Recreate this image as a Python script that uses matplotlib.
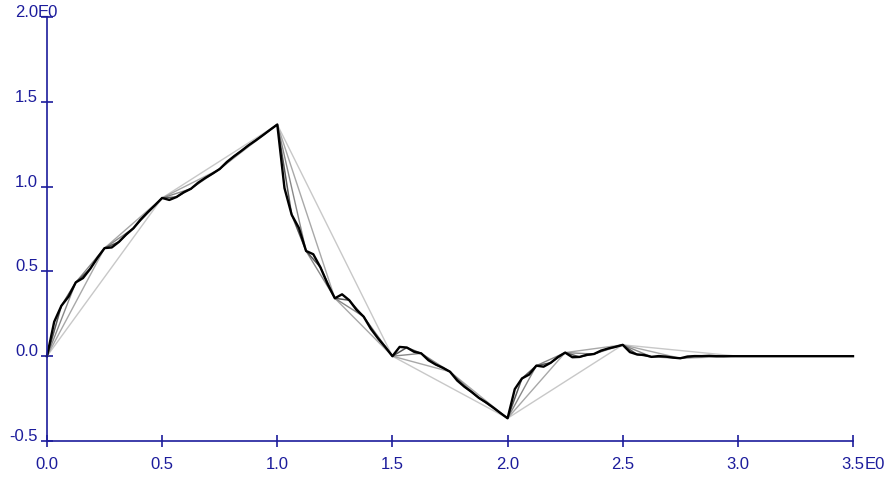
import numpy as np
import matplotlib
matplotlib.use('Agg')
import matplotlib.pyplot as plt
from matplotlib.transforms import offset_copy

plt.rcParams['font.family'] = ['Liberation Sans', 'DejaVu Sans']

# values on the finest grid, step 1/32 (x = 0 .. 3.5)
step = 1 / 32
yvals = [
    0.0, 0.2030, 0.2973, 0.3517, 0.4353, 0.4605, 0.5149, 0.5800,
    0.6373, 0.6412, 0.6742, 0.7180, 0.7539, 0.8054, 0.8492, 0.8900,
    0.9330, 0.9213, 0.9387, 0.9668, 0.9871, 1.0231, 1.0512, 1.0764,
    1.1038, 1.1454, 1.1792, 1.2102, 1.2433, 1.2721, 1.3031, 1.3349,
    1.3660, 0.9912, 0.8340, 0.7564, 0.6205, 0.6013, 0.5237, 0.4248,
    0.3415, 0.3649, 0.3301, 0.2738, 0.2333, 0.1614, 0.1052, 0.0547,
    0.0, 0.0547, 0.0511, 0.0261, 0.0167, -0.0238, -0.0488, -0.0681,
    -0.0915, -0.1435, -0.1799, -0.2106, -0.2455, -0.2720, -0.3027, -0.3349,
    -0.3660, -0.1942, -0.1312, -0.1081, -0.0558, -0.0618, -0.0386, -0.0048,
    0.0212, -0.0061, -0.0043, 0.0082, 0.0129, 0.0332, 0.0456, 0.0553,
    0.0670, 0.0240, 0.0102, 0.0071, -0.0039, 0.0008, -0.0024, -0.0084,
    -0.0123, -0.0019, 0.0007, 0.0004, 0.0022, -0.0001, -0.0004, 0.0001,
    0.0, 0.0, 0.0, 0.0, 0.0, 0.0, 0.0, 0.0,
    0.0, 0.0, 0.0, 0.0, 0.0, 0.0, 0.0, 0.0,
    0.0,
]
xvals = np.arange(len(yvals)) * step
yvals = np.array(yvals)

# refinement levels: every n-th point of the fine grid
level_skip = [16, 8, 4, 2, 1]
level_color = ['#c8c8c8', '#a8a8a8', '#888888', '#555555', '#000000']
level_lw = [1.0, 1.0, 1.0, 1.1, 1.7]

xticks = [0.0, 0.5, 1.0, 1.5, 2.0, 2.5, 3.0, 3.5]
xlabels = ['0.0', '0.5', '1.0', '1.5', '2.0', '2.5', '3.0', '3.5E0']
yticks = [-0.5, 0.0, 0.5, 1.0, 1.5, 2.0]
ylabels = ['-0.5', '0.0', '0.5', '1.0', '1.5', '2.0E0']

blue = '#1c1c9c'
fs = 12

W, H = 889, 481
fig = plt.figure(figsize=(W / 100, H / 100), dpi=100)
ax = fig.add_axes([47 / W, (H - 442) / H, 806 / W, 424 / H])
ax.set_xlim(0, 3.5)
ax.set_ylim(-0.5, 2.0)

for n, c, lw in zip(level_skip, level_color, level_lw):
    ax.plot(xvals[::n], yvals[::n], color=c, lw=lw, clip_on=False)

for s in ['top', 'right']:
    ax.spines[s].set_visible(False)
for s in ['left', 'bottom']:
    ax.spines[s].set_color(blue)
    ax.spines[s].set_linewidth(1.2)

ax.set_xticks(xticks)
ax.set_yticks(yticks)
ax.set_xticklabels([])
ax.set_yticklabels([])
ax.tick_params(direction='inout', length=8.5, width=1.2, color=blue)
ax.xaxis.get_major_ticks()[-1].tick1line.set_color('#909090')

# tick labels, the number part centred / right-aligned on the tick
for x, lab in zip(xticks, xlabels):
    num = lab.replace('E0', '')
    tr = offset_copy(ax.get_xaxis_transform(), fig=fig, x=0, y=-15, units='dots')
    t = ax.text(x, 0, num, transform=tr, ha='center', va='top',
                color=blue, fontsize=fs)
    if lab.endswith('E0'):
        fig.canvas.draw()
        bb = t.get_window_extent()
        fig.text(bb.x1 / W, bb.y1 / H, 'E0', ha='left', va='top',
                 color=blue, fontsize=fs)

for y, lab in zip(yticks, ylabels):
    num = lab.replace('E0', '')
    tr = offset_copy(ax.get_yaxis_transform(), fig=fig, x=-9, y=1, units='dots')
    t = ax.text(0, y, num, transform=tr, ha='right', va='baseline',
                color=blue, fontsize=fs)
    if lab.endswith('E0'):
        fig.canvas.draw()
        bb = t.get_window_extent()
        fig.text(bb.x1 / W, bb.y0 / H, 'E0', ha='left', va='bottom',
                 color=blue, fontsize=fs)

fig.savefig('out.png', dpi=100)
